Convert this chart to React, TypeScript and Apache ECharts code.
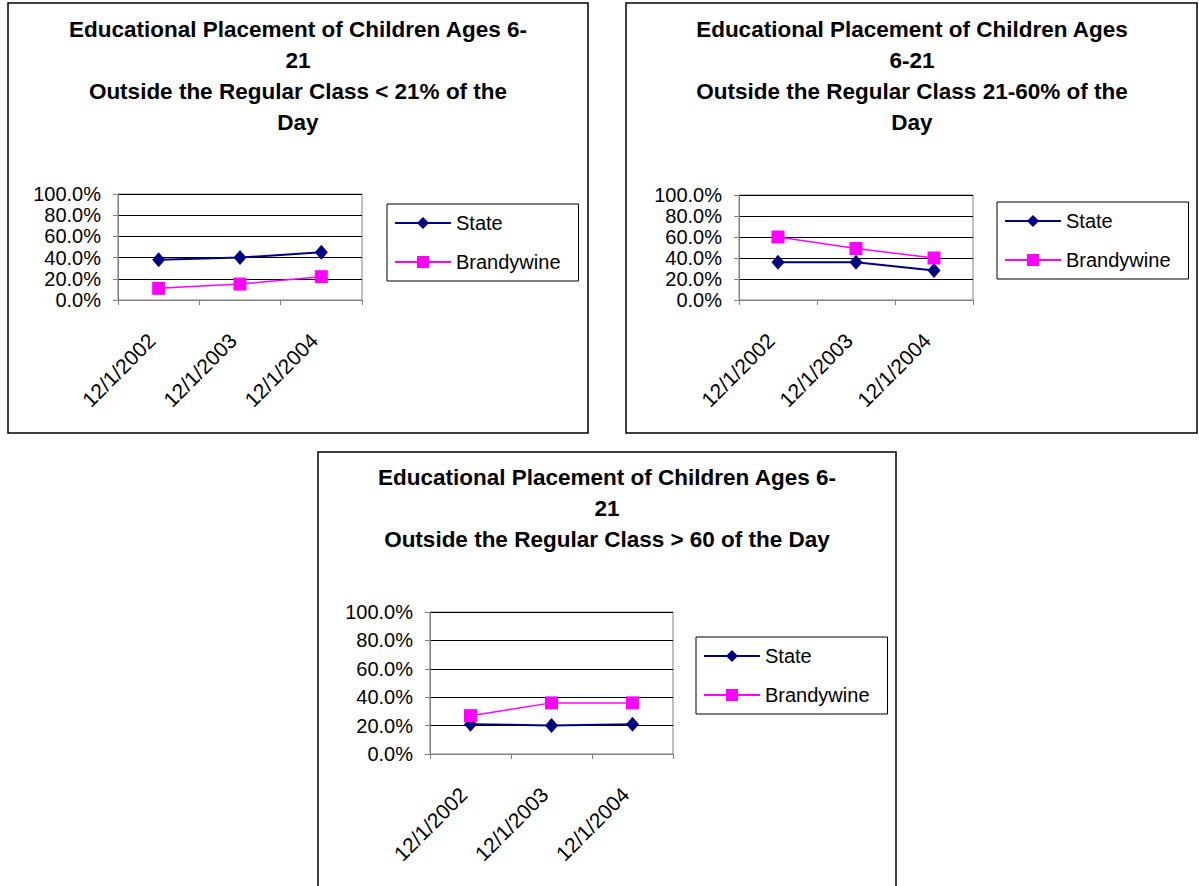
import React, { useEffect, useRef } from 'react';
import * as echarts from 'echarts';

// Reporting dates on the category axis
const years = ['12/1/2002', '12/1/2003', '12/1/2004'];
const seriesNames = ['State', 'Brandywine'];

// Share of children ages 6-21 by time spent outside the regular class
const stateUnder21 = [0.38, 0.40, 0.45];
const brandywineUnder21 = [0.11, 0.15, 0.22];
const state21to60 = [0.36, 0.36, 0.28];
const brandywine21to60 = [0.60, 0.49, 0.40];
const stateOver60 = [0.21, 0.20, 0.21];
const brandywineOver60 = [0.27, 0.36, 0.36];

// Value axis range and step
const yMin = 0;
const yMax = 1;
const yStep = 0.2;

const titles = [
  'Educational Placement of Children Ages 6-\n21\nOutside the Regular Class < 21% of the\nDay',
  'Educational Placement of Children Ages\n6-21\nOutside the Regular Class 21-60% of the\nDay',
  'Educational Placement of Children Ages 6-\n21\nOutside the Regular Class > 60 of the Day',
];

const panelData = [
  [stateUnder21, brandywineUnder21],
  [state21to60, brandywine21to60],
  [stateOver60, brandywineOver60],
];

const FONT = '"Liberation Sans", Arial, Helvetica, sans-serif';
const NAVY = '#000080';
const MAGENTA = '#FF00FF';
const AXIS_GRAY = '#808080';

// Panel frames and plot placement
const panels = [
  {
    box: { x: 8, y: 3, w: 580, h: 430 },
    grid: { left: 118, top: 194, width: 244, height: 106 },
    legend: { left: 387, top: 204 },
    title: { x: 298, y: 14 },
  },
  {
    box: { x: 626, y: 3, w: 571, h: 430 },
    grid: { left: 739, top: 195, width: 234, height: 105 },
    legend: { left: 997, top: 202 },
    title: { x: 912, y: 14 },
  },
  {
    box: { x: 318, y: 452, w: 578, h: 500 },
    grid: { left: 430, top: 612, width: 243, height: 142 },
    legend: { left: 696, top: 637 },
    title: { x: 607, y: 462 },
  },
];

function buildOption() {
  const grid: any[] = [];
  const xAxis: any[] = [];
  const yAxis: any[] = [];
  const legend: any[] = [];
  const series: any[] = [];
  const graphic: any[] = [];

  panels.forEach((p, i) => {
    graphic.push({
      type: 'rect',
      shape: { x: p.box.x, y: p.box.y, width: p.box.w, height: p.box.h },
      style: { fill: 'none', stroke: '#000', lineWidth: 1.5 },
      silent: true,
      z: 0,
    });
    graphic.push({
      type: 'text',
      x: p.title.x,
      y: p.title.y,
      style: {
        text: titles[i],
        align: 'center',
        verticalAlign: 'top',
        fontFamily: FONT,
        fontSize: 22.5,
        fontWeight: 'bold',
        lineHeight: 31,
        fill: '#000',
      },
      silent: true,
    });

    grid.push({
      ...p.grid,
      show: true,
      borderColor: AXIS_GRAY,
      borderWidth: 1,
      backgroundColor: 'transparent',
    });

    xAxis.push({
      type: 'category',
      gridIndex: i,
      data: years,
      boundaryGap: true,
      axisLine: { show: true, lineStyle: { color: AXIS_GRAY, width: 1 } },
      axisTick: { show: true, length: 5, inside: false, lineStyle: { color: AXIS_GRAY } },
      axisLabel: {
        rotate: 45,
        margin: 30,
        padding: [0, 10, 0, 0],
        color: '#000',
        fontFamily: FONT,
        fontSize: 21,
        interval: 0,
      },
      splitLine: { show: false },
    });

    yAxis.push({
      type: 'value',
      gridIndex: i,
      min: yMin,
      max: yMax,
      interval: yStep,
      axisLine: { show: true, lineStyle: { color: AXIS_GRAY, width: 1 } },
      axisTick: { show: true, length: 5, inside: false, lineStyle: { color: AXIS_GRAY } },
      axisLabel: {
        margin: 17,
        color: '#000',
        fontFamily: FONT,
        fontSize: 20,
        formatter: (v: number) => (v * 100).toFixed(1) + '%',
      },
      splitLine: { show: true, lineStyle: { color: '#000', width: 1 } },
    });

    legend.push({
      orient: 'vertical',
      left: p.legend.left,
      top: p.legend.top,
      data: seriesNames,
      selectedMode: false,
      itemWidth: 56,
      itemHeight: 15,
      itemGap: 19,
      padding: [9, 18, 9, 7],
      borderColor: '#000',
      borderWidth: 1,
      backgroundColor: '#fff',
      textStyle: { color: '#000', fontFamily: FONT, fontSize: 20 },
    });

    const [stateVals, brandyVals] = panelData[i];
    series.push({
      name: seriesNames[0],
      type: 'line',
      xAxisIndex: i,
      yAxisIndex: i,
      data: stateVals,
      symbol: 'diamond',
      symbolSize: [13, 15],
      lineStyle: { color: NAVY, width: 2 },
      itemStyle: { color: NAVY },
      z: 3,
    });
    series.push({
      name: seriesNames[1],
      type: 'line',
      xAxisIndex: i,
      yAxisIndex: i,
      data: brandyVals,
      symbol: 'rect',
      symbolSize: 13,
      lineStyle: { color: MAGENTA, width: 1.5 },
      itemStyle: { color: MAGENTA },
      z: 4,
    });
  });

  return {
    animation: false,
    backgroundColor: '#fff',
    textStyle: { fontFamily: FONT },
    grid,
    xAxis,
    yAxis,
    legend,
    series,
    graphic,
  };
}

export default function App() {
  const ref = useRef<HTMLDivElement>(null);

  useEffect(() => {
    if (!ref.current) return;
    const chart = echarts.init(ref.current, undefined, { renderer: 'svg' });
    chart.setOption(buildOption());
    return () => {
      chart.dispose();
    };
  }, []);

  return (
    <div
      ref={ref}
      style={{ position: 'fixed', left: 0, top: 0, width: 1199, height: 886, background: '#fff' }}
    />
  );
}
